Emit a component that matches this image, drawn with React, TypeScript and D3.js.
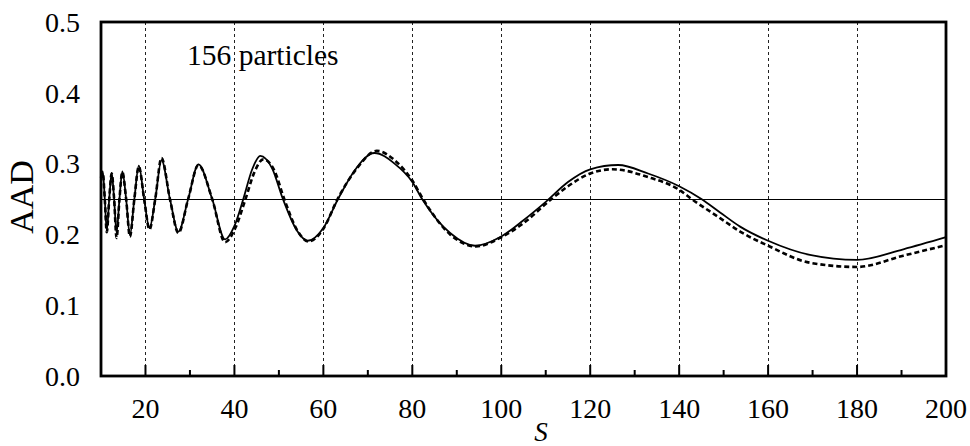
import React from "react";
import * as d3 from "d3";

const S_SOLID = [10, 10.4, 10.85, 11.3, 11.85, 12.4, 12.95, 13.5, 14.15, 14.8, 15.65, 16.5, 17.5, 18.5, 19.7, 20.9, 22.2, 23.6, 25.5, 27.4, 29.6, 31.9, 35.0, 37.9, 40, 42.0, 44, 45.8, 48.5, 50.9, 54, 56.5, 60, 63.3, 67, 71.5, 76, 80, 82.2, 88.5, 94.1, 100, 105, 110.2, 115, 120, 126.3, 133, 140, 145, 149.2, 153.7, 160, 169.4, 180, 190.4, 200];
const V_SOLID = [0.283, 0.289, 0.25, 0.205, 0.25, 0.287, 0.25, 0.202, 0.25, 0.289, 0.25, 0.199, 0.25, 0.297, 0.25, 0.209, 0.25, 0.305, 0.25, 0.204, 0.25, 0.299, 0.25, 0.193, 0.212, 0.25, 0.292, 0.311, 0.293, 0.25, 0.206, 0.191, 0.209, 0.25, 0.290, 0.315, 0.300, 0.274, 0.25, 0.202, 0.184, 0.197, 0.220, 0.247, 0.274, 0.292, 0.298, 0.286, 0.268, 0.25, 0.231, 0.211, 0.191, 0.171, 0.164, 0.179, 0.196];

const S_DASH = [10, 10.4, 10.85, 11.3, 11.85, 12.4, 12.95, 13.5, 14.15, 14.8, 15.65, 16.5, 17.5, 18.5, 19.7, 20.9, 22.2, 23.6, 25.5, 27.4, 29.6, 31.9, 35.0, 37.9, 40.2, 42.5, 44.5, 46.5, 49, 51.2, 54.2, 56.7, 60, 63.2, 67.5, 72.0, 76.5, 80, 82.4, 88.5, 94.3, 100, 105, 111.3, 115, 120, 125, 133, 140, 142.8, 149.2, 153.7, 160, 169.4, 180, 190.4, 199.5];
const V_DASH = [0.280, 0.287, 0.25, 0.203, 0.25, 0.286, 0.25, 0.195, 0.25, 0.288, 0.25, 0.197, 0.25, 0.296, 0.25, 0.207, 0.25, 0.308, 0.25, 0.202, 0.25, 0.298, 0.25, 0.189, 0.209, 0.25, 0.288, 0.306, 0.290, 0.25, 0.205, 0.190, 0.208, 0.25, 0.293, 0.318, 0.302, 0.276, 0.25, 0.200, 0.183, 0.196, 0.216, 0.25, 0.268, 0.286, 0.292, 0.281, 0.263, 0.25, 0.223, 0.204, 0.184, 0.160, 0.154, 0.170, 0.184];

const Y_TICKS = [0, 0.1, 0.2, 0.3, 0.4, 0.5];
const X_MAJOR = [20, 40, 60, 80, 100, 120, 140, 160, 180, 200];
const X_MINOR = [30, 50, 70, 90, 110, 130, 150, 170, 190];
const GRID_X = [20, 40, 60, 80, 100, 120, 140, 160, 180];
const REF_LEVEL = 0.25;
const LABEL = "156 particles";

export default function App() {
  const W = 970, H = 446;
  const x = d3.scaleLinear().domain([10, 200]).range([101, 946]);
  const y = d3.scaleLinear().domain([0, 0.5]).range([376, 22]);
  const line = d3
    .line<[number, number]>()
    .x((d) => x(d[0]))
    .y((d) => y(d[1]))
    .curve(d3.curveMonotoneX);
  const solid = line(S_SOLID.map((s, i) => [s, V_SOLID[i]]) as [number, number][]) || "";
  const dashed = line(S_DASH.map((s, i) => [s, V_DASH[i]]) as [number, number][]) || "";
  const ff = { fontFamily: '"Liberation Serif", "Times New Roman", Times, serif' };
  const [x0, x1] = x.range();
  const [yb, yt] = y.range();
  return (
    <svg width={W} height={H} style={{ position: "absolute", left: 0, top: 0, background: "#fff" }}>
      <rect x={0} y={0} width={W} height={H} fill="#fff" />
      {GRID_X.map((v) => (
        <line key={"g" + v} x1={x(v)} x2={x(v)} y1={yt} y2={yb} stroke="#222" strokeWidth={1} strokeDasharray="3,3" shapeRendering="crispEdges" />
      ))}
      <line x1={x0} x2={x1} y1={y(REF_LEVEL)} y2={y(REF_LEVEL)} stroke="#000" strokeWidth={1} shapeRendering="crispEdges" />
      <path d={dashed} fill="none" stroke="#000" strokeWidth={2.6} strokeDasharray="5,3" />
      <path d={solid} fill="none" stroke="#000" strokeWidth={1.8} />
      {X_MAJOR.map((v) => (
        <line key={"M" + v} x1={x(v)} x2={x(v)} y1={yb} y2={yb - 11} stroke="#000" strokeWidth={2} />
      ))}
      {X_MINOR.map((v) => (
        <line key={"m" + v} x1={x(v)} x2={x(v)} y1={yb} y2={yb - 6} stroke="#000" strokeWidth={2} />
      ))}
      <rect x={x0} y={yt} width={x1 - x0} height={yb - yt} fill="none" stroke="#000" strokeWidth={2.8} />
      {Y_TICKS.map((v) => (
        <text key={"y" + v} x={80} y={y(v)} dy="0.35em" textAnchor="end" style={ff} fontSize={28} fill="#000">
          {v.toFixed(1)}
        </text>
      ))}
      {X_MAJOR.map((v) => (
        <text key={"x" + v} x={x(v)} y={418} textAnchor="middle" style={ff} fontSize={28} fill="#000">
          {v}
        </text>
      ))}
      <text transform="translate(33,197) rotate(-90)" textAnchor="middle" style={ff} fontSize={34} fill="#000">
        AAD
      </text>
      <text x={541} y={441} textAnchor="middle" style={ff} fontStyle="italic" fontSize={27} fill="#000">
        S
      </text>
      <text x={187} y={65} style={ff} fontSize={29.5} fill="#000">
        {LABEL}
      </text>
    </svg>
  );
}
